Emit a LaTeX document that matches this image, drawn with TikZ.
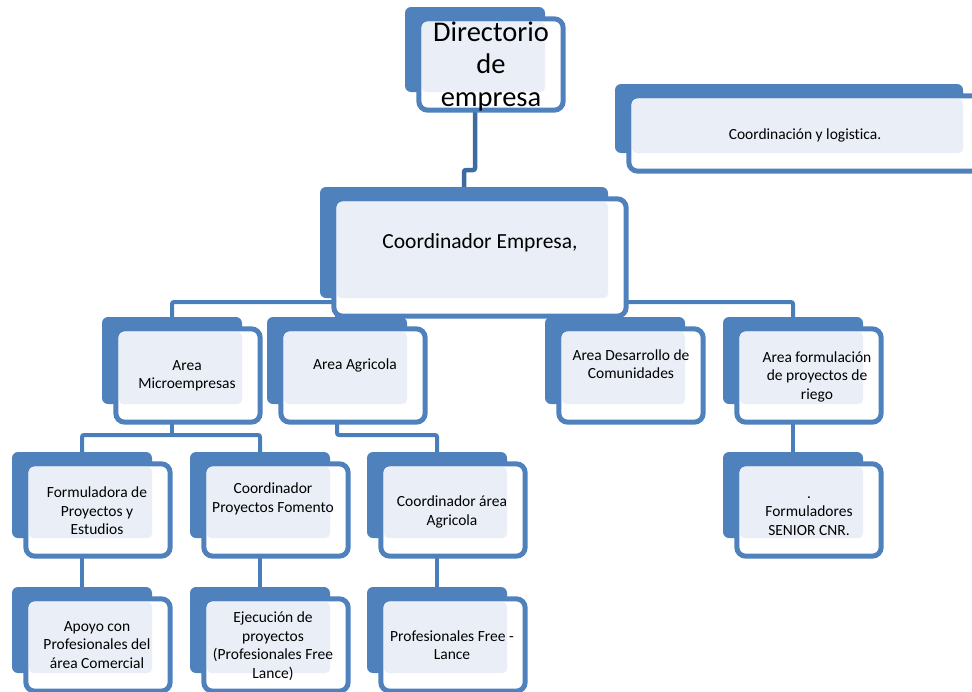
\documentclass[tikz,border=0pt]{standalone}
\usepackage{fontspec}
\setmainfont{Carlito}[Ligatures=CommonOff]
\usetikzlibrary{calc}

\definecolor{boxblue}{HTML}{4F81BD}
\definecolor{linkblue}{HTML}{4A7EBB}
\definecolor{topblue}{HTML}{3F6A9F}
\definecolor{shadeblue}{HTML}{EAEFF7}

\pgfdeclarelayer{lines}
\pgfdeclarelayer{backs}
\pgfdeclarelayer{fronts}
\pgfdeclarelayer{shade}
\pgfsetlayers{lines,backs,fronts,shade,main}

\tikzset{
  backbox/.style={fill=boxblue, rounded corners=6pt, inner sep=0pt},
  frontbox/.style={draw=boxblue, fill=white, line width=5pt, rounded corners=9pt},
  shadebox/.style={fill=shadeblue, rounded corners=5pt},
  boxtext/.style={align=center, inner sep=0pt, font=\fontsize{15.5}{18.5}\selectfont},
  link/.style={draw=linkblue, line width=4pt, rounded corners=2pt},
}

% #1 text style, #2 name, #3 centre of the blue block, #4 width, #5 height, #6 text shift, #7 text
\newcommand{\orgbox}[7][]{%
  \begin{pgfonlayer}{backs}
    \node[backbox, minimum width=#4pt, minimum height=#5pt] (#2) at (#3) {};
  \end{pgfonlayer}
  \begin{pgfonlayer}{fronts}
    \draw[frontbox] ($(#2.north west)+(14,12)$) rectangle ($(#2.south east)+(18,18)$);
  \end{pgfonlayer}
  \begin{pgfonlayer}{shade}
    \fill[shadebox] ($(#2.north west)+(17,15)$) rectangle (#2.south east);
  \end{pgfonlayer}
  \node[boxtext, #1] (#2-t) at ($(#2.center)+(#6)$) {#7};
}

\begin{document}
\begin{tikzpicture}[x=1pt, y=-1pt]
  \useasboundingbox (0,0) rectangle (972,691);

  \orgbox[font=\fontsize{28.5}{32.5}\selectfont]{dir}{475,49.5}{140}{85}{16,16.5}{Directorio\\de\\empresa}
  \orgbox{coordn}{789,118.5}{348}{69}{16,17}{Coordinación y logistica.}
  \orgbox[font=\fontsize{21.5}{26}\selectfont]{coord}{464,242.5}{288}{111}{16,0}{Coordinador Empresa,}

  % areas
  \orgbox{micro}{172,360.5}{140}{87}{15,15.5}{Area\\Microempresas}
  \orgbox{agri}{337,360.5}{140}{87}{18,4.5}{Area Agricola}
  \orgbox{des}{615,360.5}{140}{87}{16,3.5}{Area Desarrollo de\\Comunidades}
  \orgbox{riego}{793,360.5}{140}{87}{24,16}{Area formulación\\de proyectos de\\riego}

  % third row
  \orgbox{form}{82,495}{140}{86}{15,16}{Formuladora de\\Proyectos y\\Estudios}
  \orgbox{fom}{260,495}{140}{86}{13,4}{Coordinador\\Proyectos Fomento}
  \orgbox{cagri}{437,495}{140}{86}{15,17}{Coordinador área\\Agricola}
  \orgbox{senior}{793,495}{140}{86}{16,21}{.\\Formuladores\\SENIOR CNR.}

  % fourth row
  \orgbox{apoyo}{82,630}{140}{86}{15,15}{Apoyo con\\Profesionales del\\área Comercial}
  \orgbox{ejec}{260,630}{140}{86}{13,16}{Ejecución de\\proyectos\\(Profesionales Free\\Lance)}
  \orgbox{free}{437,630}{140}{86}{15,15}{Profesionales Free -\\Lance}

  \begin{pgfonlayer}{lines}
    \coordinate (jog) at (0,170);
    \coordinate (busa) at (0,302);
    \coordinate (busb) at (0,435);
    \draw[link, draw=topblue, line width=4.5pt] (dir.south) -- (dir.south |- jog) -| (coord.north);
    \draw[link] (micro.north) -- (micro.north |- busa) -| (riego.north);
    \draw[link] (agri.north) -- (agri.north |- busa);
    \draw[link] (des.north) -- (des.north |- busa);
    \draw[link] (micro.south) -- (micro.south |- busb);
    \draw[link] (form.north) -- (form.north |- busb) -| (fom.north);
    \draw[link] (agri.south) -- (agri.south |- busb) -| (cagri.north);
    \foreach \a/\b in {form/apoyo, fom/ejec, cagri/free, riego/senior}
      \draw[link] (\a.south) -- (\b.north);
  \end{pgfonlayer}
\end{tikzpicture}
\end{document}
